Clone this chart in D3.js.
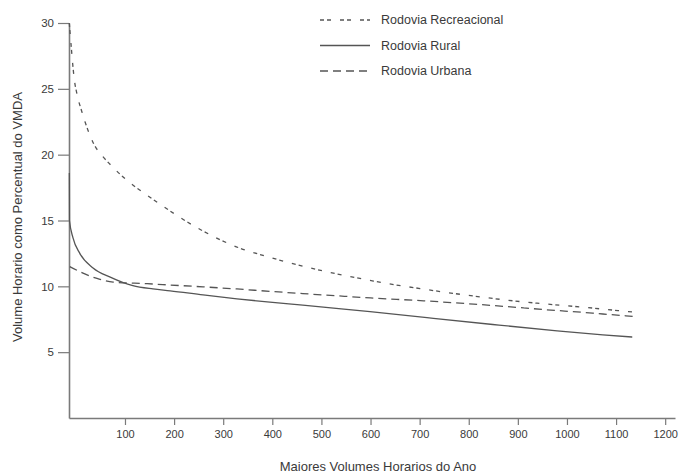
<!DOCTYPE html>
<html>
<head>
<meta charset="utf-8">
<script src="https://cdn.jsdelivr.net/npm/d3@7/dist/d3.min.js"></script>
<style>
  html, body { margin: 0; padding: 0; background: #fff; }
  svg { display: block; }
  text { font-family: "Liberation Sans", Arial, Helvetica, sans-serif; fill: #3a3a3a; }
</style>
</head>
<body>
<svg id="chart" width="683" height="476"></svg>
<script>
// ---- data ----
const xTicks = [100, 200, 300, 400, 500, 600, 700, 800, 900, 1000, 1100, 1200];
const yTicks = [5, 10, 15, 20, 25, 30];
const seriesNames = ["Rodovia Recreacional", "Rodovia Rural", "Rodovia Urbana"];

const recreacional = [
  [-13.5, 30.0], [-9.9, 28.4], [-6.5, 26.9], [-3.8, 25.9], [2.9, 24.5], [11.9, 23.3],
  [18.6, 22.5], [28.8, 21.45], [36, 20.85], [55, 19.85], [70, 19.25], [104, 18.05],
  [144, 16.95], [171, 16.25], [205, 15.4], [259, 14.2], [334, 12.9], [381, 12.35],
  [429, 11.85], [477, 11.4], [518, 11.05], [572, 10.65], [606, 10.4], [653, 10.1],
  [701, 9.83], [748, 9.57], [796, 9.33], [849, 9.08], [890, 8.9], [939, 8.72],
  [1000, 8.52], [1033, 8.42], [1073, 8.27], [1134, 8.05]
];
const rural = [
  [-13.3, 18.6], [-13, 15.0], [-6, 13.7], [8, 12.5], [35, 11.4], [70, 10.7],
  [116, 10.05], [157, 9.8], [192, 9.66], [259, 9.35], [328, 9.05], [395, 8.8],
  [462, 8.57], [530, 8.33], [599, 8.08], [715, 7.62], [849, 7.1], [980, 6.62],
  [1073, 6.32], [1133, 6.15]
];
const urbana = [
  [-12.5, 11.5], [14.5, 11.0], [43, 10.6], [76, 10.32], [145, 10.2], [192, 10.1],
  [259, 9.96], [328, 9.8], [395, 9.62], [462, 9.45], [532, 9.28], [600, 9.12],
  [708, 8.9], [810, 8.65], [912, 8.36], [959, 8.22], [1033, 8.02], [1073, 7.9], [1134, 7.72]
];

// ---- layout ----
const svg = d3.select("#chart");
const x = d3.scaleLinear().domain([-14, 1220]).range([69, 675]);
const y = d3.scaleLinear().domain([0, 30]).range([418, 23]);

const axisColor = "#7a7a7a";
const lineColor = "#555";

// x axis
const gx = svg.append("g").attr("transform", `translate(0,${y(0)})`)
  .call(d3.axisBottom(x).tickValues(xTicks).tickFormat(d3.format("d"))
    .tickSize(7).tickSizeOuter(0).tickPadding(5));
gx.select(".domain").attr("stroke", axisColor).attr("stroke-width", 1.6);
gx.selectAll(".tick line").attr("stroke", axisColor).attr("stroke-width", 1.2);
gx.selectAll(".tick text").attr("font-size", 11).attr("fill", "#333")
  .attr("font-family", "'Liberation Sans', Arial, sans-serif");

// y axis
const gy = svg.append("g").attr("transform", `translate(${x(-14)},0)`)
  .call(d3.axisLeft(y).tickValues(yTicks).tickFormat(d3.format("d"))
    .tickSize(11).tickSizeOuter(0).tickPadding(4));
gy.select(".domain").attr("stroke", axisColor).attr("stroke-width", 1.6);
gy.selectAll(".tick line").attr("stroke", axisColor).attr("stroke-width", 1.2);
gy.selectAll(".tick text").attr("font-size", 11.5).attr("fill", "#333")
  .attr("font-family", "'Liberation Sans', Arial, sans-serif");

// axis titles
svg.append("text").attr("x", 378).attr("y", 471).attr("text-anchor", "middle")
  .attr("font-size", 13).text("Maiores Volumes Horarios do Ano");
svg.append("text").attr("transform", "translate(22,217) rotate(-90)")
  .attr("text-anchor", "middle").attr("font-size", 13)
  .text("Volume Horario como Percentual do VMDA");

// lines
const line = d3.line().x(d => x(d[0])).y(d => y(d[1])).curve(d3.curveMonotoneX);
const styles = [
  { data: recreacional, dash: "4,3,4,9", w: 1.3 },
  { data: rural, dash: null, w: 1.3 },
  { data: urbana, dash: "8,5", w: 1.3 }
];
styles.forEach(s => {
  svg.append("path").datum(s.data).attr("d", line)
    .attr("fill", "none").attr("stroke", lineColor).attr("stroke-width", s.w)
    .attr("stroke-dasharray", s.dash);
});

// legend
const legY = [20, 45.5, 71];
const leg = svg.append("g");
seriesNames.forEach((name, i) => {
  leg.append("line").attr("x1", 320).attr("x2", 370).attr("y1", legY[i]).attr("y2", legY[i])
    .attr("stroke", lineColor).attr("stroke-width", 1.3)
    .attr("stroke-dasharray", styles[i].dash);
  leg.append("text").attr("x", 381).attr("y", legY[i]).attr("dy", "0.35em")
    .attr("font-size", 12.5).text(name);
});
</script>
</body>
</html>
